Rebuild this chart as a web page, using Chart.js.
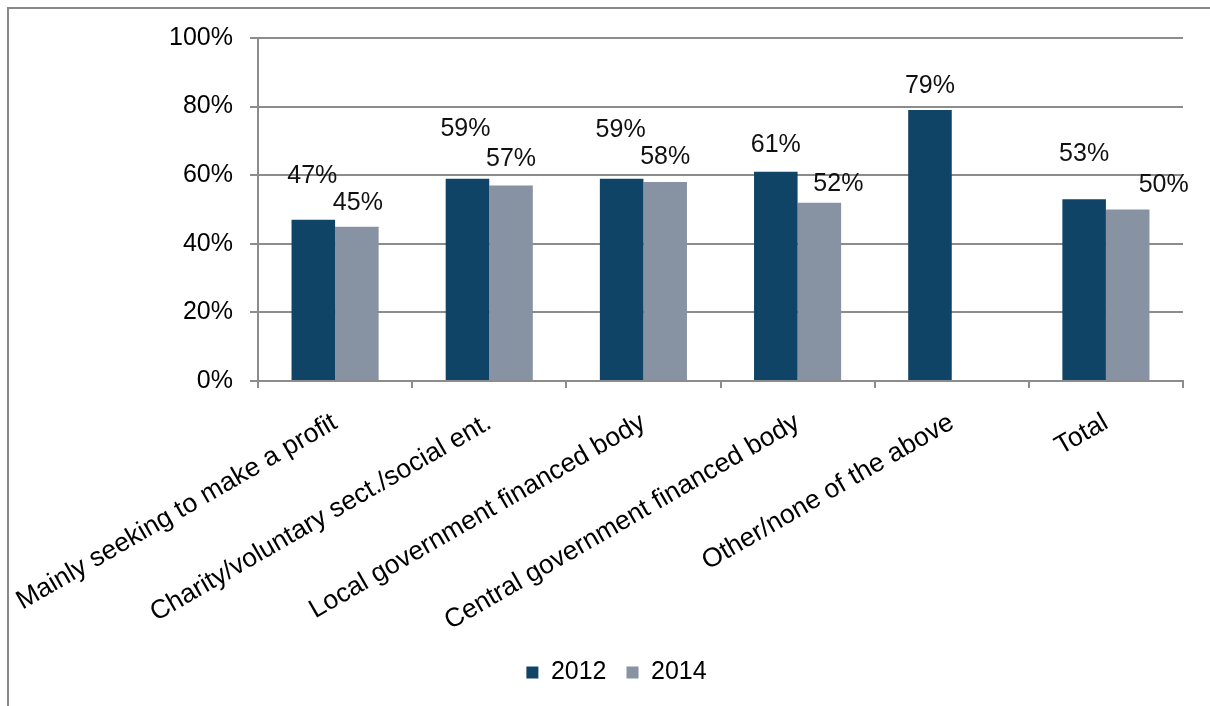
<!DOCTYPE html>
<html>
<head>
<meta charset="utf-8">
<script src="https://cdn.jsdelivr.net/npm/chart.js@4.4.1/dist/chart.umd.min.js"></script>
<style>
  html, body { margin: 0; padding: 0; background: #fff; }
  #wrap { position: relative; width: 1210px; height: 706px; }
</style>
</head>
<body>
<div id="wrap"><canvas id="chartOrgType"></canvas></div>
<script>
/* Share by organisation type, 2012 vs 2014 */
const categories = [
  'Mainly seeking to make a profit',
  'Charity/voluntary sect./social ent.',
  'Local government financed body',
  'Central government financed body',
  'Other/none of the above',
  'Total'
];
const years = ['2012', '2014'];
const values2012 = [47, 59, 59, 61, 79, 53];
const values2014 = [45, 57, 58, 52, null, 50];
const yTicks = [0, 20, 40, 60, 80, 100];

// label nudges [dx, dy] on top of the default spot above each bar
const labelShift2012 = [[-1, -18], [-2, -24], [-1, -23], [0, -1], [0, 2], [0, -19]];
const labelShift2014 = [[1, 2], [0, 0], [0, 1], [19, 7], [0, 0], [36, 2]];

const FONT = '"Liberation Sans", Arial, sans-serif';
const GRID = '#8c8c8c';

Chart.defaults.font.family = FONT;
Chart.defaults.font.size = 25;
Chart.defaults.color = '#000';

// grey frame on the top and left edges
const framePlugin = {
  id: 'frame',
  beforeDraw(chart) {
    const c = chart.ctx;
    c.save();
    c.strokeStyle = '#888';
    c.lineWidth = 2;
    c.beginPath();
    c.moveTo(8, chart.height);
    c.lineTo(8, 8);
    c.lineTo(chart.width, 8);
    c.stroke();
    c.restore();
  }
};

// percentage labels over the bars
const barLabels = {
  id: 'barLabels',
  afterDatasetsDraw(chart) {
    const c = chart.ctx;
    const shifts = [labelShift2012, labelShift2014];
    c.save();
    c.font = '25px ' + FONT;
    c.fillStyle = '#111';
    c.textAlign = 'center';
    c.textBaseline = 'middle';
    chart.data.datasets.forEach((ds, di) => {
      chart.getDatasetMeta(di).data.forEach((bar, i) => {
        const v = ds.data[i];
        if (v === null || v === undefined) return;
        const [dx, dy] = shifts[di][i];
        c.fillText(v + '%', bar.x + dx, bar.y - 26 + dy);
      });
    });
    c.restore();
  }
};

const ctx = document.getElementById('chartOrgType').getContext('2d');
const myChart = new Chart(ctx, {
  type: 'bar',
  plugins: [framePlugin, barLabels],
  data: {
    labels: categories,
    datasets: [
      {
        label: years[0],
        data: values2012,
        backgroundColor: '#0f4466',
        categoryPercentage: 0.565,
        barPercentage: 1.0
      },
      {
        label: years[1],
        data: values2014,
        backgroundColor: '#8793a2',
        categoryPercentage: 0.565,
        barPercentage: 1.0
      }
    ]
  },
  options: {
    responsive: true,
    maintainAspectRatio: false,
    animation: false,
    layout: {
      padding: { left: 50, right: 27, top: 38, bottom: 11 }
    },
    scales: {
      y: {
        min: 0,
        max: 100,
        afterFit: (scale) => { scale.width = 208; },
        afterBuildTicks: (scale) => { scale.ticks = yTicks.map(v => ({ value: v })); },
        ticks: {
          padding: 17,
          callback: (v) => v + '%',
          font: { size: 25 },
          color: '#000'
        },
        grid: { color: GRID, lineWidth: 2, tickLength: 8, drawTicks: true },
        border: { color: GRID, width: 2 }
      },
      x: {
        afterFit: (scale) => {
          scale.height = 259;
          // rotated labels may hang past the left edge; keep the plot where it is
          scale.paddingLeft = 0;
          scale.paddingRight = 0;
        },
        ticks: {
          minRotation: 30,
          maxRotation: 30,
          padding: 19,
          font: { size: 26.5 },
          color: '#000'
        },
        grid: {
          offset: true,
          drawOnChartArea: false,
          drawTicks: true,
          tickLength: 7,
          color: GRID,
          lineWidth: 2
        },
        border: { color: GRID, width: 2 }
      }
    },
    plugins: {
      legend: {
        position: 'bottom',
        labels: {
          boxWidth: 12,
          boxHeight: 12,
          padding: 20,
          font: { size: 25 },
          color: '#000'
        }
      },
      tooltip: { enabled: false }
    }
  }
});
</script>
</body>
</html>
